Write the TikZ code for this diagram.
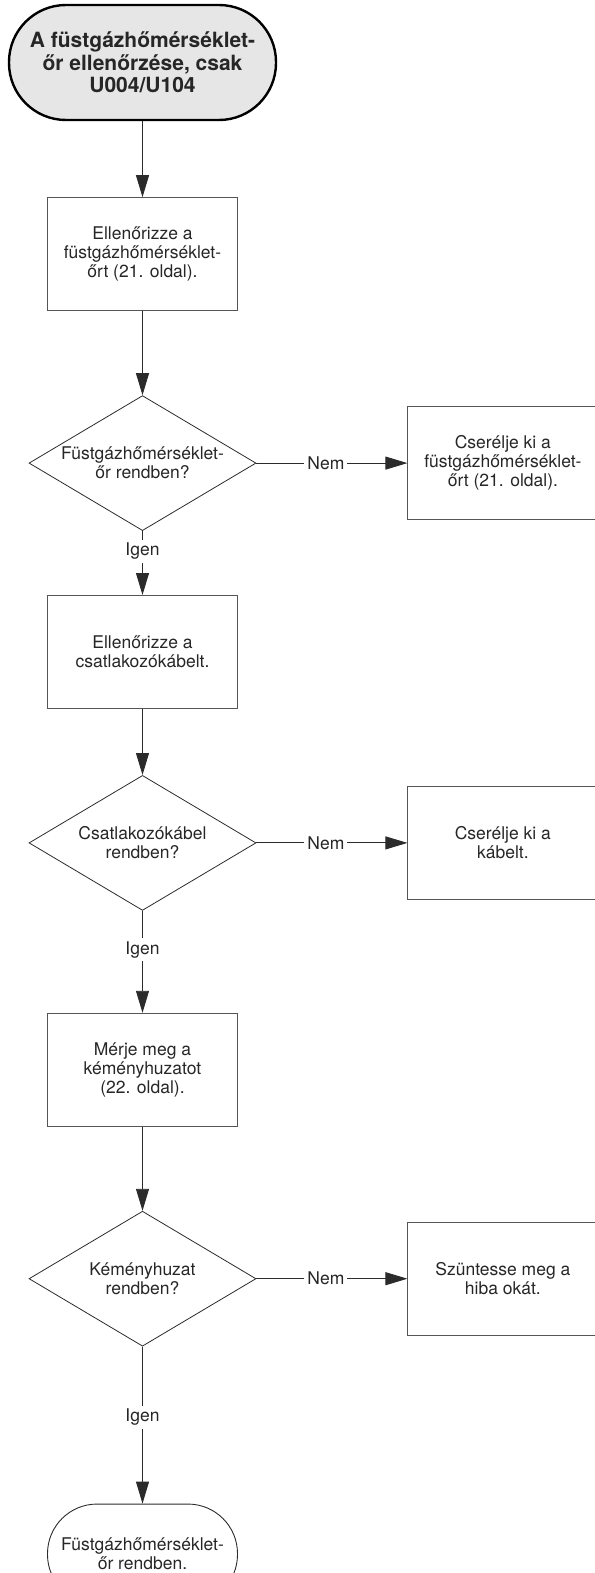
\documentclass[tikz,border=0pt]{standalone}
\usepackage{fontspec}
\setmainfont{TeX Gyre Heros}
\usepackage{xcolor}
\usetikzlibrary{shapes.geometric, arrows.meta, positioning}
\definecolor{linegray}{HTML}{2B2B2B}
\definecolor{boxgray}{HTML}{555555}
\definecolor{startfill}{HTML}{E6E6E6}
\tikzset{
    startstop/.style={rectangle, rounded corners=57pt, minimum width=267pt, minimum height=115pt, align=center, draw=black, line width=2.4pt, fill=startfill, font=\bfseries\fontsize{21}{22.5}\selectfont},
    endstop/.style={rectangle, rounded corners=49.5pt, minimum width=190pt, minimum height=100pt, align=center, draw=linegray, line width=0.9pt},
    process/.style={rectangle, minimum width=190pt, minimum height=113pt, align=center, draw=boxgray, line width=1pt},
    decision/.style={diamond, aspect=1.68, inner sep=0pt, minimum width=227pt, minimum height=135pt, align=center, draw=linegray, line width=0.8pt},
    arrow/.style={line width=0.9pt, draw=linegray, -{Triangle[length=22pt, width=13pt]}},
}

\begin{document}
\begin{tikzpicture}[font=\fontsize{17.5}{19}\selectfont, text=black!85]
    \tikzstyle{answer} = [fill=white, inner sep=3pt]
    \useasboundingbox (0,0) rectangle (594pt,-1573pt);

    \node [startstop] (start) at (142.5pt,-62.5pt) {A füstgázhőmérséklet-\\őr ellenőrzése, csak\\U004/U104};
    \node [process, below=76pt of start] (chk1) {Ellenőrizze a\\füstgázhőmérséklet-\\őrt (21. oldal).};
    \node [decision, below=84pt of chk1] (dec1) {Füstgázhőmérséklet-\\őr rendben?};
    \node [process, right=151pt of dec1] (rep1) {Cserélje ki a\\füstgázhőmérséklet-\\őrt (21. oldal).};
    \node [process, below=64pt of dec1] (chk2) {Ellenőrizze a\\csatlakozókábelt.};
    \node [decision, below=66pt of chk2] (dec2) {Csatlakozókábel\\rendben?};
    \node [process, right=151pt of dec2] (rep2) {Cserélje ki a\\kábelt.};
    \node [process, below=102pt of dec2] (chk3) {Mérje meg a\\kéményhuzatot\\(22. oldal).};
    \node [decision, below=84pt of chk3] (dec3) {Kéményhuzat\\rendben?};
    \node [process, right=151pt of dec3] (rep3) {Szüntesse meg a\\hiba okát.};
    \node [endstop, below=157pt of dec3] (stop) {Füstgázhőmérséklet-\\őr rendben.};

    \draw [arrow] (start) -- (chk1);
    \draw [arrow] (chk1) -- (dec1);
    \draw [arrow] (dec1) -- node[answer, pos=0.46] {Nem} (rep1);
    \draw [arrow] (dec1) -- node[answer, pos=0.32] {Igen} (chk2);
    \draw [arrow] (chk2) -- (dec2);
    \draw [arrow] (dec2) -- node[answer, pos=0.46] {Nem} (rep2);
    \draw [arrow] (dec2) -- node[answer, pos=0.38] {Igen} (chk3);
    \draw [arrow] (chk3) -- (dec3);
    \draw [arrow] (dec3) -- node[answer, pos=0.46] {Nem} (rep3);
    \draw [arrow] (dec3) -- node[answer, pos=0.45] {Igen} (stop);
\end{tikzpicture}
\end{document}
